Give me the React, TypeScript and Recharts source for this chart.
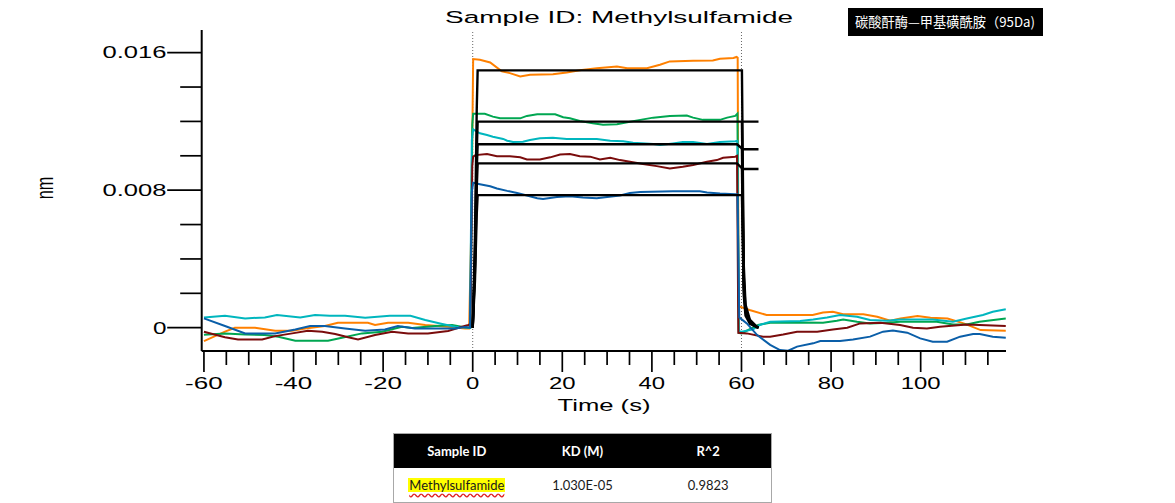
import React from 'react';
import { LineChart, Line, XAxis, YAxis, ReferenceLine } from 'recharts';

type Pt = [number, number];

// Measured response (nm) versus time (s) for each analyte concentration
const traceOrange: Pt[] = [
  [-60, -0.00078], [-55.3, -0.00023], [-53.1, 0], [-48.6, 0], [-44.1, -0.00018], [-40.3, -0.00018],
  [-37.4, -0.00004], [-33.0, 0.0001], [-30.1, 0.00029], [-23.4, 0.00029], [-21.8, 0.00016], [-18.9, 0.00029],
  [-14.4, 0.00029], [-10.6, 0.00016], [-5.5, 0.00006], [-1.7, -0.00004], [-0.8, -0.00004], [-0.3, 0.006],
  [0.1, 0.01563], [1.6, 0.01559], [3.9, 0.01543], [6.5, 0.01491], [8.3, 0.01481], [10.6, 0.01462],
  [12.8, 0.01471], [17.9, 0.01475], [21.0, 0.01485], [23.9, 0.01497], [27.7, 0.0151], [32.2, 0.0152],
  [34.5, 0.0151], [38.9, 0.0151], [41.8, 0.0153], [44.0, 0.01549], [49.2, 0.01553], [53.6, 0.01555],
  [55.2, 0.01565], [58.2, 0.01569], [58.9, 0.01575], [59.15, 0.0157], [59.35, 0.00125], [61.8, 0.00103],
  [65.6, 0.00074], [75.9, 0.00074], [78.2, 0.00089], [80.4, 0.00093], [82.7, 0.00078], [87.2, 0.00078],
  [90.3, 0.00064], [93.2, 0.00041], [95.5, 0.00054], [99.3, 0.00068], [102.2, 0.00058], [106.0, 0.00054],
  [109.6, 0.00025], [113.4, -0.00014], [119, -0.00017],
];

const traceGreen: Pt[] = [
  [-60, -0.00041], [-55.3, -0.00033], [-50.8, -0.00039], [-46.4, -0.00043], [-43.4, -0.00053], [-39.6, -0.00076],
  [-32.3, -0.00076], [-29.2, -0.00058], [-24.7, -0.00033], [-20.2, -0.00023], [-15.8, 0.00006], [-13.5, -0.00002],
  [-8.4, 0.0001], [-4.6, 0.00016], [-1.0, -0.00002], [-0.5, 0], [-0.1, 0.0118],
  [0.1, 0.01244], [2.7, 0.01244], [4.5, 0.01228], [6.1, 0.01218], [10.6, 0.01218], [12.1, 0.01232],
  [14.4, 0.01242], [18.4, 0.01242], [20.2, 0.01224], [21.7, 0.01218], [23.9, 0.01203], [26.8, 0.01189],
  [29.1, 0.0118], [32.2, 0.01183], [34.5, 0.01195], [37.4, 0.01209], [40.3, 0.01222], [44.0, 0.01232],
  [47.8, 0.01234], [49.2, 0.01222], [51.4, 0.01209], [55.2, 0.01209], [56.8, 0.01222], [58.6, 0.01232],
  [59.1, 0.01245], [59.4, -0.0003], [60.0, -0.00033], [63.7, 0.00016], [66.4, 0.00029], [73.1, 0.00031],
  [78.2, 0.00029], [81.3, 0.00041], [82.7, 0.00048], [85.8, 0.00035], [88.7, 0.00025], [92.5, 0.00029],
  [95.4, 0.00035], [103.6, 0.00035], [107.2, 0.00019], [110.3, 0.00019], [113.1, 0.00035], [119, 0.00054],
];

const traceCyan: Pt[] = [
  [-60, 0.0006], [-55.3, 0.0007], [-50.8, 0.00054], [-46.4, 0.0006], [-43.7, 0.00074], [-38.5, 0.0006],
  [-35.2, 0.00074], [-31.9, 0.0007], [-28.5, 0.0007], [-24.0, 0.00058], [-18.5, 0.0007], [-13.9, 0.0007],
  [-10.6, 0.00045], [-7.3, 0.00025], [-3.95, 0.00006], [-0.6, 0], [-0.2, 0.0109],
  [0.1, 0.01154], [1.6, 0.01131], [3.2, 0.01121], [4.5, 0.01111], [6.8, 0.01098], [7.7, 0.01088],
  [9.0, 0.0108], [11.2, 0.01082], [12.8, 0.01092], [15.0, 0.01102], [17.9, 0.01105], [21.0, 0.01098],
  [27.7, 0.01098], [30.7, 0.01088], [33.6, 0.01084], [35.8, 0.01076], [40.3, 0.01069], [41.8, 0.01063],
  [44.7, 0.01072], [46.9, 0.0108], [49.2, 0.0108], [52.3, 0.01069], [55.2, 0.0108], [58.6, 0.01084],
  [59.1, 0.01086], [59.4, -0.0002], [60.0, -0.00023], [62.6, -0.0001], [64.1, 0.00016], [66.4, 0.00035],
  [73.1, 0.00039], [76.0, 0.00048], [79.1, 0.0006], [82.0, 0.00074], [85.8, 0.00064], [88.7, 0.00045],
  [92.5, 0.00041], [95.4, 0.00048], [102.7, 0.00048], [107.2, 0.00035], [110.3, 0.00054], [113.9, 0.00074],
  [116.1, 0.00093], [119, 0.00107],
];

const traceMaroon: Pt[] = [
  [-60, -0.00023], [-55.3, -0.00056], [-52.4, -0.00068], [-47.0, -0.00068], [-44.1, -0.00049], [-40.3, -0.00033],
  [-36.8, -0.00018], [-33.6, -0.00023], [-30.7, -0.00037], [-27.8, -0.00056], [-25.6, -0.00068], [-21.8, -0.00043],
  [-18.0, -0.00023], [-14.4, -0.00033], [-10.0, -0.00033], [-5.5, -0.00019], [-2.4, 0.00006], [-1.0, 0.00016],
  [-0.5, 0.0002], [-0.1, 0.0094],
  [0.1, 0.00995], [0.6, 0.01004], [3.2, 0.0101], [5.4, 0.00998], [8.3, 0.00998], [10.6, 0.00991],
  [12.1, 0.00979], [15.0, 0.00979], [17.3, 0.00991], [19.5, 0.01008], [21.7, 0.0101], [23.9, 0.00998],
  [26.2, 0.00995], [28.4, 0.00979], [30.7, 0.00989], [32.9, 0.00975], [35.1, 0.00965], [38.0, 0.00952],
  [41.1, 0.0094], [44.0, 0.00926], [46.9, 0.00936], [49.2, 0.00946], [52.3, 0.00965], [54.5, 0.00975],
  [55.9, 0.00989], [58.6, 0.00995], [59.0, 0.01], [59.3, -0.0003], [61.2, -0.00033], [64.8, -0.00052],
  [66.4, -0.00052], [69.3, -0.00039], [72.4, -0.00023], [76.9, -0.00023], [80.4, -0.0001], [83.6, 0],
  [86.5, 0.00025], [91.0, 0.00029], [95.4, 0.00016], [98.3, 0], [101.4, -0.00004], [104.3, 0.00006],
  [110.3, 0.00019], [119, 0.0001],
];

const traceBlue: Pt[] = [
  [-60, 0.00054], [-55.3, 0.0001], [-50.8, -0.00033], [-44.1, -0.00033], [-39.6, -0.0001], [-36.3, 0.0001],
  [-33.0, 0.0001], [-28.5, -0.00004], [-24.0, -0.00018], [-19.6, -0.0001], [-16.7, 0.0001], [-12.9, -0.00004],
  [-8.4, -0.00004], [-3.95, -0.00004], [-1.7, 0.00004], [-0.6, 0], [-0.2, 0.0079],
  [0.1, 0.00843], [1.6, 0.00835], [3.9, 0.00823], [5.4, 0.0081], [7.7, 0.00796], [9.9, 0.00784],
  [12.1, 0.00769], [14.4, 0.00753], [15.7, 0.00749], [18.8, 0.00761], [21.7, 0.00765], [24.6, 0.00757],
  [27.7, 0.00753], [30.0, 0.00761], [32.9, 0.00769], [35.1, 0.00784], [37.4, 0.0079], [44.7, 0.00794],
  [50.7, 0.00794], [52.3, 0.00786], [55.2, 0.0078], [58.6, 0.00777], [59.1, 0.00775], [59.5, 0.0006],
  [61.2, 0.00025], [63.5, -0.00043], [66.4, -0.001], [68.6, -0.0013], [70.4, -0.00134], [72.4, -0.0011],
  [76.0, -0.00091], [77.6, -0.00078], [82.0, -0.00078], [84.9, -0.00068], [88.7, -0.00052], [91.6, -0.00023],
  [93.8, -0.00017], [97.0, -0.00029], [99.9, -0.00062], [102.7, -0.00081], [105.9, -0.00081], [108.8, -0.00052],
  [111.7, -0.00037], [113.2, -0.00037], [116.1, -0.00052], [119, -0.00058],
];

// Global fit curves (association and dissociation parts)
const fitA: Pt[] = [
  [0, 0], [0.5, 0.0052], [0.9, 0.0127], [1.1, 0.01497], [60.1, 0.01497],
  [60.5, 0.0037], [60.9, 0.00135], [61.9, 0.00045], [63.4, 0.00006], [63.8, 0.00002],
];
const fitB: Pt[] = [[0, 0], [0.5, 0.0042], [0.9, 0.0102], [1.1, 0.01199], [63.8, 0.01199]];
const fitBOff: Pt[] = [[60.1, 0.01199], [60.5, 0.003], [60.9, 0.0011], [61.9, 0.00036], [63.4, 0.00005], [63.8, 0.00002]];
const fitC: Pt[] = [[0, 0], [0.5, 0.0037], [0.9, 0.0091], [1.1, 0.01067], [59.0, 0.01067], [60.3, 0.01038], [63.8, 0.01038]];
const fitCOff: Pt[] = [[60.1, 0.0104], [60.5, 0.0026], [60.9, 0.001], [61.9, 0.00032], [63.4, 0.00004], [63.8, 0.00002]];
const fitD: Pt[] = [[0, 0], [0.5, 0.0033], [0.9, 0.0081], [1.1, 0.00956], [59.0, 0.00956], [60.3, 0.00923], [63.8, 0.00923]];
const fitDOff: Pt[] = [[60.1, 0.0093], [60.5, 0.0023], [60.9, 0.0009], [61.9, 0.00028], [63.4, 0.00004], [63.8, 0.00001]];
const fitE: Pt[] = [
  [0, 0], [0.5, 0.0027], [0.9, 0.0066], [1.1, 0.00771], [60.1, 0.00771],
  [60.5, 0.0019], [60.9, 0.0007], [61.9, 0.00023], [63.4, 0.00003], [63.8, 0],
];

const xMajorTicks = [-60, -40, -20, 0, 20, 40, 60, 80, 100];
const xMinorTicks = [-55, -50, -45, -35, -30, -25, -15, -10, -5, 5, 10, 15, 25, 30, 35, 45, 50, 55, 65, 70, 75, 85, 90, 95, 105, 110, 115];
const yMajorTicks = [0, 0.008, 0.016];
const yMajorLabels = ['0', '0.008', '0.016'];
const yMinorTicks = [0.002, 0.004, 0.006, 0.01, 0.012, 0.014];
const injectionMarks = [0, 60];

const tableHeaders = ['Sample ID', 'KD (M)', 'R^2'];
const tableRow = ['Methylsulfamide', '1.030E-05', '0.9823'];

const titleText = 'Sample ID: Methylsulfamide';
const xAxisTitle = 'Time (s)';
const yAxisTitle = 'nm';
const tagText = '碳酸酐酶—甲基磺酰胺（95Da)';

const X_DOMAIN: [number, number] = [-60.5, 119.05];
const Y_DOMAIN: [number, number] = [-0.001355, 0.017318];

const AXIS_FONT = '"Liberation Sans", Arial, sans-serif';

const rows = (pts: Pt[]) => pts.map(([t, v]) => ({ t, v }));

const traces = [
  { id: 'c1', pts: traceOrange, color: '#ff8000' },
  { id: 'c2', pts: traceGreen, color: '#00a651' },
  { id: 'c3', pts: traceCyan, color: '#00b6be' },
  { id: 'c4', pts: traceMaroon, color: '#7a0c0c' },
  { id: 'c5', pts: traceBlue, color: '#0a5ea8' },
];

const fits = [
  { id: 'fA', pts: fitA }, { id: 'fB', pts: fitB }, { id: 'fBo', pts: fitBOff },
  { id: 'fC', pts: fitC }, { id: 'fCo', pts: fitCOff }, { id: 'fD', pts: fitD },
  { id: 'fDo', pts: fitDOff }, { id: 'fE', pts: fitE },
];

// stretched label widths: digits are wide in this layout
const labelWidth = (s: string) => {
  let w = 0;
  for (const ch of s) w += ch === '-' ? 11 : ch === '.' ? 12 : 13.3;
  return w;
};

const XTick = (props: any) => {
  const { x, y, payload } = props;
  const v = payload.value as number;
  const idx = xMajorTicks.indexOf(v);
  const major = idx >= 0;
  const label = major ? String(xMajorTicks[idx]) : '';
  const w = labelWidth(label);
  return (
    <g>
      <line x1={x} y1={y} x2={x} y2={y + (major ? 21 : 14)} stroke="#000" strokeWidth={1.7} />
      {major && (
        <text x={x - w / 2} y={y + 38} fontFamily={AXIS_FONT} fontSize={16.5} fill="#000"
          textLength={w} lengthAdjust="spacingAndGlyphs">{label}</text>
      )}
    </g>
  );
};

const YTick = (props: any) => {
  const { x, y, payload } = props;
  const v = payload.value as number;
  const idx = yMajorTicks.findIndex((m) => Math.abs(m - v) < 1e-9);
  const major = idx >= 0;
  const label = major ? yMajorLabels[idx] : '';
  const w = label === '0' ? 13.5 : 64;
  return (
    <g>
      <line x1={x} y1={y} x2={x - (major ? 34.5 : 21.5)} y2={y} stroke="#000" strokeWidth={1.7} />
      {major && (
        <text x={166.5 - w} y={y + 5.8} fontFamily={AXIS_FONT} fontSize={16.5} fill="#000"
          textLength={w} lengthAdjust="spacingAndGlyphs">{label}</text>
      )}
    </g>
  );
};

export default function App() {
  const xTicks = [...xMajorTicks, ...xMinorTicks].sort((a, b) => a - b);
  const yTicks = [...yMajorTicks, ...yMinorTicks].sort((a, b) => a - b);
  return (
    <div style={{ position: 'absolute', left: 0, top: 0, width: 1175, height: 503, background: '#fff' }}>
      <LineChart width={1175} height={503} margin={{ top: 30, right: 169, bottom: 92, left: 0 }}>
        <XAxis type="number" dataKey="t" domain={X_DOMAIN} ticks={xTicks} interval={0}
          allowDataOverflow tickSize={0} tickMargin={0} tickLine={false} tick={XTick}
          axisLine={{ stroke: '#000', strokeWidth: 2 }} height={60} />
        <YAxis type="number" domain={Y_DOMAIN} ticks={yTicks} interval={0}
          allowDataOverflow tickSize={0} tickMargin={0} tickLine={false} tick={YTick}
          axisLine={{ stroke: '#000', strokeWidth: 2 }} width={201.7} />
        {injectionMarks.map((m) => (
          <ReferenceLine key={m} x={m} stroke="#666" strokeWidth={1} strokeDasharray="1 2" />
        ))}
        {traces.map((s) => (
          <Line key={s.id} data={rows(s.pts)} dataKey="v" type="linear" stroke={s.color}
            strokeWidth={2} dot={false} activeDot={false} isAnimationActive={false} />
        ))}
        {fits.map((s) => (
          <Line key={s.id} data={rows(s.pts)} dataKey="v" type="linear" stroke="#000"
            strokeWidth={2.4} dot={false} activeDot={false} isAnimationActive={false} />
        ))}
      </LineChart>

      <svg width={1175} height={503} style={{ position: 'absolute', left: 0, top: 0, pointerEvents: 'none' }}>
        <text x={445} y={23.3} fontFamily={AXIS_FONT} fontSize={16.3} fill="#000"
          textLength={348} lengthAdjust="spacingAndGlyphs">{titleText}</text>
        <text x={557.5} y={411} fontFamily={AXIS_FONT} fontSize={16.3} fill="#000"
          textLength={93} lengthAdjust="spacingAndGlyphs">{xAxisTitle}</text>
        <g transform="translate(45,188) scale(1.45,1) rotate(-90)">
          <text x={0} y={0} textAnchor="middle" dominantBaseline="central" fontFamily={AXIS_FONT}
            fontSize={16.3} fill="#000">{yAxisTitle}</text>
        </g>
        <rect x={848} y={8} width={195} height={28} fill="#000" />
        <text x={855} y={26.5} fontFamily='"Noto Sans CJK SC", sans-serif' fontSize={13.5} fill="#fff"
          textLength={180} lengthAdjust="spacingAndGlyphs">{tagText}</text>
      </svg>

      <div style={{
        position: 'absolute', left: 393, top: 433, width: 379, height: 70, boxSizing: 'border-box',
        border: '1px solid #a8a8a8', fontFamily: 'Lato, "Open Sans", sans-serif', background: '#fff',
      }}>
        <div style={{ display: 'flex', height: 34, alignItems: 'center', background: '#000', color: '#fff', fontWeight: 700, fontSize: 13 }}>
          {tableHeaders.map((h) => (
            <div key={h} style={{ flex: 1, textAlign: 'center' }}>{h}</div>
          ))}
        </div>
        <div style={{ display: 'flex', height: 34, alignItems: 'center', color: '#1a1a1a', fontSize: 13 }}>
          {tableRow.map((c, i) => (
            <div key={c} style={{ flex: 1, textAlign: 'center' }}>
              {i === 0 ? (
                <span style={{
                  background: '#ffff00', display: 'inline-block', lineHeight: '14px', padding: '0 1px',
                  textDecorationLine: 'underline', textDecorationStyle: 'wavy', textDecorationColor: '#e02020',
                  textUnderlineOffset: '3px',
                }}>{c}</span>
              ) : c}
            </div>
          ))}
        </div>
      </div>
    </div>
  );
}
